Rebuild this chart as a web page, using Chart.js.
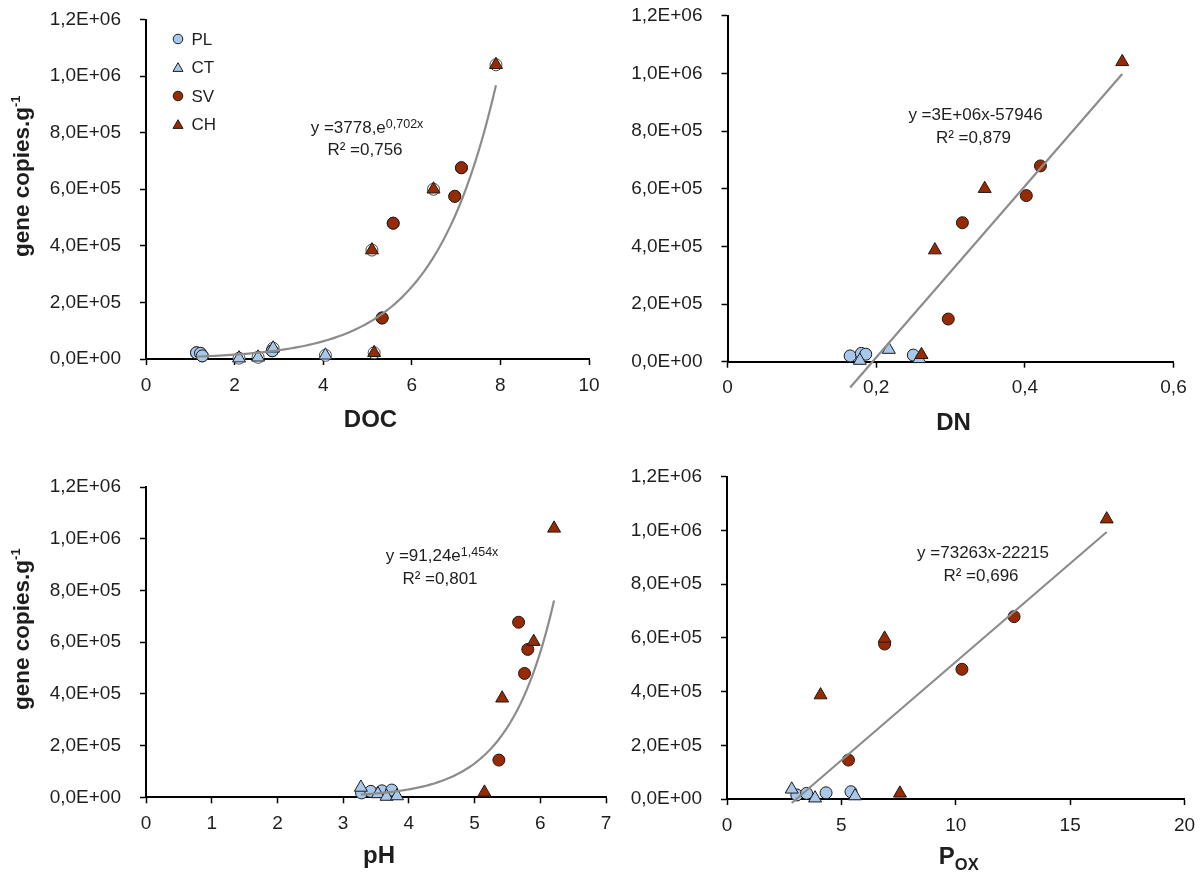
<!DOCTYPE html>
<html>
<head>
<meta charset="utf-8">
<script src="https://cdn.jsdelivr.net/npm/chart.js@4.4.1/dist/chart.umd.min.js"></script>
<style>
  html, body { margin: 0; padding: 0; background: #fff; }
  #wrap { position: relative; width: 1204px; height: 873px; overflow: hidden; background: #fff; }
  #wrap canvas { position: absolute; left: -40px; top: -40px; }
</style>
</head>
<body>
<div id="wrap">
  <canvas id="cDOC" width="1284" height="953"></canvas>
  <canvas id="cDN" width="1284" height="953"></canvas>
  <canvas id="cPH" width="1284" height="953"></canvas>
  <canvas id="cPOX" width="1284" height="953"></canvas>
</div>
<script>
// ---- sample groups ----
const groupNames = ['PL', 'CT', 'SV', 'CH'];

// ---- gene copies vs DOC : [x, y] ----
const docPL = [[1.14, 22000], [1.23, 20000], [1.27, 11000], [2.85, 29000]];
const docCT = [[2.10, 3000], [2.53, 6000], [2.87, 38000], [4.05, 13000]];
const docSV = [[5.33, 145000], [5.58, 480000], [6.97, 575000], [7.12, 676000]];
const docCH = [[5.15, 22000], [5.10, 385000], [6.49, 600000], [7.90, 1040000]];

// ---- gene copies vs DN ----
const dnPL = [[0.165, 20000], [0.180, 29000], [0.186, 26000], [0.250, 23000]];
const dnCT = [[0.178, 4000], [0.217, 42000], [0.258, 10000]];
const dnSV = [[0.297, 148000], [0.316, 482000], [0.402, 576000], [0.421, 679000]];
const dnCH = [[0.261, 24000], [0.279, 387000], [0.346, 600000], [0.531, 1040000]];

// ---- gene copies vs pH ----
const phPL = [[3.28, 17000], [3.42, 23000], [3.59, 25000], [3.74, 28000]];
const phCT = [[3.27, 38000], [3.53, 13000], [3.66, 3000], [3.82, 5000]];
const phSV = [[5.37, 144000], [5.76, 479000], [5.81, 572000], [5.67, 677000]];
const phCH = [[5.15, 19000], [5.42, 383000], [5.90, 602000], [6.21, 1040000]];

// ---- gene copies vs Pox ----
const poxPL = [[3.05, 15000], [3.48, 21000], [4.33, 23000], [5.42, 27000]];
const poxCT = [[2.83, 36000], [3.85, 3000], [5.60, 11000]];
const poxSV = [[5.31, 145000], [10.27, 483000], [6.89, 577000], [12.55, 679000]];
const poxCH = [[4.09, 387000], [6.89, 598000], [7.56, 21000], [16.60, 1042000]];

// ---- fitted trend lines ----
const docFit = { kind: 'exp', a: 3778, b: 0.702 };
const dnFit  = { kind: 'lin', a: 2.97e6, b: -579460 };
const phFit  = { kind: 'exp', a: 91.24, b: 1.454 };
const poxFit = { kind: 'lin', a: 73263, b: -222150 };

// ---- axis ticks ----
const yTicks   = [0, 200000, 400000, 600000, 800000, 1000000, 1200000];
const docTicks = [0, 2, 4, 6, 8, 10];
const dnTicks  = [0, 0.2, 0.4, 0.6];
const phTicks  = [0, 1, 2, 3, 4, 5, 6, 7];
const poxTicks = [0, 5, 10, 15, 20];

// ---- styling ----
const FAMILY = "'Liberation Sans', Arial, Helvetica, sans-serif";
const BLUE = '#a7c8ea';
const RED = '#982a02';
const EDGE = '#1c1c1c';
const TREND = '#8c8c8c';
const TEXT = '#1e1e1e';

// canvases overhang the page by OFF px on every side so that axis label
// padding never pushes the plot areas around
const OFF = 40, CW = 1284, CH_ = 953;

Chart.defaults.font.family = FAMILY;
Chart.defaults.color = TEXT;

function sci(v) {
  if (v === 0) return '0,0E+00';
  const e = Math.floor(Math.log10(v) + 1e-9);
  const m = v / Math.pow(10, e);
  return m.toFixed(1).replace('.', ',') + 'E+' + String(e).padStart(2, '0');
}
function dec(v) { return String(Math.round(v * 1000) / 1000).replace('.', ','); }

function textRuns(ctx, runs) {
  let w = 0;
  for (const r of runs) { ctx.font = (r.bold ? 'bold ' : '') + r.size + 'px ' + FAMILY; r.w = ctx.measureText(r.t).width; w += r.w; }
  return w;
}
function drawRuns(ctx, runs, cx, base) {
  const total = textRuns(ctx, runs);
  let x = cx - total / 2;
  ctx.textAlign = 'left';
  ctx.textBaseline = 'alphabetic';
  for (const r of runs) {
    ctx.font = (r.bold ? 'bold ' : '') + r.size + 'px ' + FAMILY;
    ctx.fillText(r.t, x, base + (r.dy || 0));
    x += r.w;
  }
}

const groupStyle = {
  PL: { pointStyle: 'circle', radius: 6, fill: BLUE },
  CT: { pointStyle: 'triangle', radius: 7.5, fill: BLUE },
  SV: { pointStyle: 'circle', radius: 6, fill: RED },
  CH: { pointStyle: 'triangle', radius: 7.5, fill: RED }
};

function decorations(p) {
  return {
    id: 'deco_' + p.id,
    afterDraw(chart) {
      const ctx = chart.ctx;
      const a = chart.chartArea;
      ctx.save();
      ctx.fillStyle = TEXT;
      // equation + R²
      drawRuns(ctx, p.eq1, a.left + p.eqX, a.top + p.eqY);
      drawRuns(ctx, p.eq2, a.left + p.eqX - 2, a.top + p.eqY + 22.5);
      // x-axis title
      drawRuns(ctx, p.xTitle, (a.left + a.right) / 2 + 3, a.bottom + p.xTitleGap);
      // y-axis title
      if (p.yTitle) {
        ctx.save();
        ctx.translate(OFF + 29, (a.top + a.bottom) / 2 - 13);
        ctx.rotate(-Math.PI / 2);
        drawRuns(ctx, [
          { t: 'gene copies.g', size: 22.5, bold: true },
          { t: '-1', size: 13, bold: true, dy: -9 }
        ], 0, 0);
        ctx.restore();
      }
      // legend of sample groups
      if (p.legend) {
        groupNames.forEach((g, i) => {
          const s = groupStyle[g];
          const y = a.top + 19.5 + i * 28.5;
          ctx.fillStyle = s.fill;
          ctx.strokeStyle = EDGE;
          ctx.lineWidth = 1;
          Chart.helpers.drawPoint(ctx, { pointStyle: s.pointStyle, radius: s.pointStyle === 'circle' ? 4.8 : 5.8, borderWidth: 1, rotation: 0 }, a.left + 32, y + (s.pointStyle === 'triangle' ? 1 : 0));
          ctx.fillStyle = TEXT;
          ctx.font = '17px ' + FAMILY;
          ctx.textAlign = 'left';
          ctx.textBaseline = 'middle';
          ctx.fillText(g, a.left + 45.5, y + 1);
        });
      }
      ctx.restore();
    }
  };
}

function makePanel(p) {
  const pts = arr => arr.map(([x, y]) => ({ x, y }));
  const all = [...p.PL, ...p.CT, ...p.SV, ...p.CH];
  const xs = all.map(d => d[0]);
  const x0 = Math.min(...xs), x1 = Math.max(...xs);
  const trend = [];
  if (p.fit.kind === 'exp') {
    const n = 80;
    for (let i = 0; i <= n; i++) {
      const x = x0 + (x1 - x0) * i / n;
      trend.push({ x, y: p.fit.a * Math.exp(p.fit.b * x) });
    }
  } else {
    trend.push({ x: x0, y: p.fit.a * x0 + p.fit.b }, { x: x1, y: p.fit.a * x1 + p.fit.b });
  }
  const series = (g, data) => ({
    label: g, data: pts(data),
    pointStyle: groupStyle[g].pointStyle, pointRadius: groupStyle[g].radius,
    backgroundColor: groupStyle[g].fill, borderColor: EDGE, borderWidth: 1,
    pointHoverRadius: groupStyle[g].radius, clip: false
  });
  const datasets = [
    { label: 'trend', data: trend, showLine: true, pointRadius: 0, borderColor: TREND, borderWidth: 2.2, tension: 0, clip: false },
    series('CH', p.CH),
    series('SV', p.SV),
    series('CT', p.CT),
    series('PL', p.PL)
  ];
  if (p.backdrop) {
    datasets.push({ label: 'all', data: pts(all), pointStyle: 'circle', pointRadius: 6,
      backgroundColor: '#ffffff', borderColor: '#4a4a4a', borderWidth: 1, clip: false });
  }
  const Y_W = 120, X_H = 50;
  const axisCommon = {
    grid: { drawOnChartArea: false, drawTicks: true, tickLength: 6, tickWidth: 1.5, tickColor: '#000' },
    border: { display: true, color: '#000', width: 2 }
  };
  new Chart(document.getElementById(p.id), {
    type: 'scatter',
    data: { datasets },
    options: {
      responsive: false, animation: false, devicePixelRatio: 1,
      events: [],
      layout: { padding: {
        left: p.L + OFF - Y_W, top: p.T + OFF,
        right: CW - (p.R + OFF), bottom: CH_ - (p.B + OFF) - X_H } },
      plugins: { legend: { display: false }, tooltip: { enabled: false } },
      scales: {
        x: Object.assign({
          type: 'linear', position: 'bottom', min: p.xTicks[0], max: p.xTicks[p.xTicks.length - 1],
          afterBuildTicks: s => { s.ticks = p.xTicks.map(v => ({ value: v })); },
          afterFit: s => { s.height = X_H; },
          ticks: { callback: v => dec(v), font: { size: 19 }, color: TEXT, padding: 9, maxRotation: 0, autoSkip: false }
        }, axisCommon),
        y: Object.assign({
          type: 'linear', position: 'left', min: 0, max: 1200000,
          afterBuildTicks: s => { s.ticks = yTicks.map(v => ({ value: v })); },
          afterFit: s => { s.width = Y_W; },
          ticks: { callback: v => sci(v), font: { size: 19 }, color: TEXT, padding: 19, autoSkip: false }
        }, axisCommon)
      }
    },
    plugins: [decorations(p)]
  });
}

makePanel({
  id: 'cDOC', L: 146, R: 589, T: 19.5, B: 359,
  PL: docPL, CT: docCT, SV: docSV, CH: docCH, fit: docFit, xTicks: docTicks,
  backdrop: true, legend: true, yTitle: true,
  eqX: 221, eqY: 113,
  eq1: [{ t: 'y =3778,e', size: 17 }, { t: '0,702x', size: 12.5, dy: -5 }],
  eq2: [{ t: 'R² =0,756', size: 17 }],
  xTitle: [{ t: 'DOC', size: 24, bold: true }], xTitleGap: 67.5
});

makePanel({
  id: 'cDN', L: 727.5, R: 1173.5, T: 15.7, B: 361.7,
  PL: dnPL, CT: dnCT, SV: dnSV, CH: dnCH, fit: dnFit, xTicks: dnTicks,
  eqX: 248, eqY: 104.5,
  eq1: [{ t: 'y =3E+06x-57946', size: 17 }],
  eq2: [{ t: 'R² =0,879', size: 17 }],
  xTitle: [{ t: 'DN', size: 24, bold: true }], xTitleGap: 68
});

makePanel({
  id: 'cPH', L: 146, R: 606, T: 487, B: 797.3,
  PL: phPL, CT: phCT, SV: phSV, CH: phCH, fit: phFit, xTicks: phTicks,
  yTitle: true,
  eqX: 296, eqY: 74,
  eq1: [{ t: 'y =91,24e', size: 17 }, { t: '1,454x', size: 12.5, dy: -5 }],
  eq2: [{ t: 'R² =0,801', size: 17 }],
  xTitle: [{ t: 'pH', size: 24, bold: true }], xTitleGap: 66
});

makePanel({
  id: 'cPOX', L: 727, R: 1184.5, T: 476.7, B: 799,
  PL: poxPL, CT: poxCT, SV: poxSV, CH: poxCH, fit: poxFit, xTicks: poxTicks,
  eqX: 256, eqY: 81.5,
  eq1: [{ t: 'y =73263x-22215', size: 17 }],
  eq2: [{ t: 'R² =0,696', size: 17 }],
  xTitle: [{ t: 'P', size: 24, bold: true }, { t: 'OX', size: 16.5, bold: true, dy: 6 }], xTitleGap: 65
});
</script>
</body>
</html>
